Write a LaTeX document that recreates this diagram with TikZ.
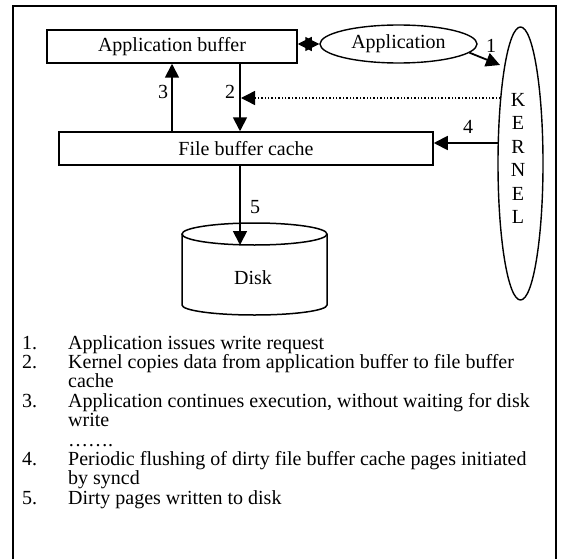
\documentclass[tikz,border=0pt]{standalone}
\usepackage{fontspec}
\setmainfont{Liberation Serif}
\usetikzlibrary{arrows.meta,shapes.geometric}
\begin{document}
\begin{tikzpicture}[x=1pt,y=-1pt,
  font=\fontsize{20}{20}\selectfont,
  box/.style={draw, line width=1.5pt, inner sep=0pt, minimum height=33pt},
  oval/.style={draw, ellipse, line width=1.4pt, inner sep=0pt},
  tipa/.tip={Triangle[length=14pt,width=14pt]},
  arr/.style={line width=1.8pt, -tipa},
  lbl/.style={inner sep=0pt},
  item/.style={anchor=base west, inner sep=0pt},
]
\useasboundingbox (0,0) rectangle (564,559);
% frame
\draw[line width=1.6pt] (13,559) -- (13,6) -- (556,6) -- (556,559);

% nodes
\node[box, minimum width=250pt] (appbuf) at (172,46.5) {Application buffer};
\node[box, minimum width=374pt] (fbc) at (246,148.5) {File buffer cache};
\node[oval, minimum width=157pt, minimum height=38pt] (app) at (398.5,44) {Application};
\node[oval, minimum width=45pt, minimum height=273pt] (kernel) at (520.5,163.5) {};
\node[lbl, align=center, font=\fontsize{20}{23.4}\selectfont] (ktext) at (518,158.5) {K\\E\\R\\N\\E\\L};

% disk
\draw[line width=1.5pt] (182,234) -- (182,305) arc[start angle=180,end angle=0,x radius=72.5,y radius=10] -- (327,234);
\draw[line width=1.5pt] (254.5,234) ellipse [x radius=72.5, y radius=11];
\node[lbl] (disk) at (253,278) {Disk};

% coordinates
\coordinate (x2) at (240,0);
\coordinate (x3) at (172,0);
\coordinate (k1) at (500.5,98);
\coordinate (k4) at (498.5,143);
\coordinate (k0) at (500,65);
\coordinate (disktop) at (240,245);

% connectors
\draw[line width=1.2pt, tipa-tipa] (appbuf.east |- app.west) -- (app.west);
\draw[arr] (app.-7.5) -- (k0);
\draw[arr] (appbuf.south -| x2) -- (fbc.north -| x2);
\draw[arr] (fbc.north -| x3) -- (appbuf.south -| x3);
\draw[line width=1.4pt, dotted, -tipa] (k1) -- ([xshift=1pt]x2 |- k1);
\draw[arr] (k4) -- (fbc.east |- k4);
\draw[arr] (fbc.south -| x2) -- (disktop);

% connector labels
\node[lbl] (l1) at (491,46) {1};
\node[lbl] (l2) at (230,92) {2};
\node[lbl] (l3) at (163,92) {3};
\node[lbl] (l4) at (468,127) {4};
\node[lbl] (l5) at (255,207) {5};

% list
\node[item] (n1) at (22,349) {1.};
\node[item] (t1) at (68,349) {Application issues write request};
\node[item] (n2) at (22,368.4) {2.};
\node[item] (t2) at (68,368.4) {Kernel copies data from application buffer to file buffer};
\node[item] (t2b) at (68,387.8) {cache};
\node[item] (n3) at (22,407.2) {3.};
\node[item] (t3) at (68,407.2) {Application continues execution, without waiting for disk};
\node[item] (t3b) at (68,426.6) {write};
\node[item] (dots) at (68,446) {…….};
\node[item] (n4) at (22,465.4) {4.};
\node[item] (t4) at (68,465.4) {Periodic flushing of dirty file buffer cache pages initiated};
\node[item] (t4b) at (68,484.8) {by syncd};
\node[item] (n5) at (22,504.2) {5.};
\node[item] (t5) at (68,504.2) {Dirty pages written to disk};
\end{tikzpicture}
\end{document}
